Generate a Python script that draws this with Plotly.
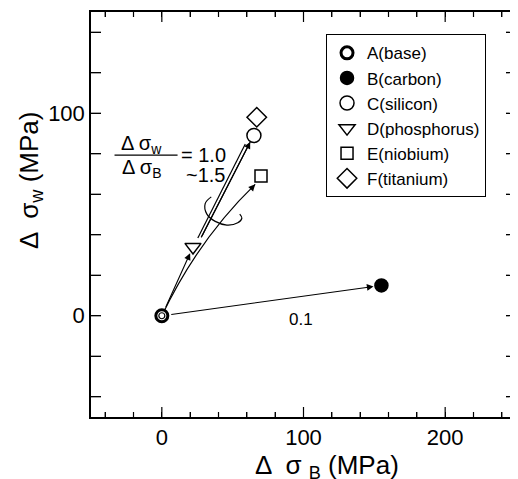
import plotly.graph_objects as go

# ---- data ----
names = ["A(base)", "B(carbon)", "C(silicon)", "D(phosphorus)", "E(niobium)", "F(titanium)"]
d_sigma_B = [0, 155, 65, 22, 70, 67]      # MPa
d_sigma_W = [0, 15, 89, 34, 69, 98]       # MPa
symbols = ["circle", "circle", "circle", "triangle-down", "square", "diamond"]
fills = ["white", "black", "white", "white", "white", "white"]
sizes = [12, 13, 14, 14, 12, 15]
line_w = [3, 1.5, 1.5, 1.5, 1.5, 1.5]

x_range = [-50, 250]
y_range = [-50, 150]
x_labels = [0, 100, 200]
y_labels = [0, 100]
x_minor = [-40, -20, 0, 20, 40, 60, 80, 100, 120, 140, 160, 180, 200, 220, 240]
y_minor = [-40, -20, 0, 20, 40, 60, 80, 100, 120, 140]

ratio_label_B = "0.1"
ratio_label_B_pos = [98, -2]

# parallel lines from D towards C
par_left_x = [25.4, 58.9]
par_left_y = [38.4, 84.8]
par_right_x = [27.8, 62.4]
par_right_y = [38.7, 85.8]

# curved path origin -> E (quadratic control point)
curve_ctrl = [26, 38]
curve_end = [65.9, 64.9]

# rotation loop symbol
loop_x = [34.9, 30.6, 31.8, 37.7, 45.9, 53.6, 56.5, 55.0]
loop_y = [58.7, 55.4, 50.2, 46.6, 44.8, 45.9, 48.2, 50.2]

FONT = "Liberation Sans, Arial, Helvetica, sans-serif"

fig = go.Figure()

fig.add_shape(type="path", xref="x", yref="y", layer="below",
              path=f"M 0,0 Q {curve_ctrl[0]},{curve_ctrl[1]} {curve_end[0]},{curve_end[1]}",
              line=dict(color="black", width=1.2))

fig.add_trace(go.Scatter(x=par_left_x, y=par_left_y, mode="lines",
                         line=dict(color="black", width=1.2), showlegend=False, hoverinfo="skip"))
fig.add_trace(go.Scatter(x=par_right_x, y=par_right_y, mode="lines",
                         line=dict(color="black", width=1.2), showlegend=False, hoverinfo="skip"))
fig.add_trace(go.Scatter(x=loop_x, y=loop_y, mode="lines",
                         line=dict(color="black", width=1.2, shape="spline"),
                         showlegend=False, hoverinfo="skip"))

for i, n in enumerate(names):
    fig.add_trace(go.Scatter(
        x=[d_sigma_B[i]], y=[d_sigma_W[i]], mode="markers", name=n,
        marker=dict(symbol=symbols[i], size=sizes[i], color=fills[i],
                    line=dict(color="black", width=line_w[i]))))

fig.add_trace(go.Scatter(x=[d_sigma_B[0]], y=[d_sigma_W[0]], mode="markers",
                         marker=dict(symbol="circle", size=6, color="white",
                                     line=dict(color="black", width=1.2)),
                         showlegend=False, hoverinfo="skip"))

arrow = dict(showarrow=True, text="", xref="x", yref="y", axref="x", ayref="y",
             arrowhead=2, arrowsize=1.2, arrowwidth=1.1, arrowcolor="black")
annotations = [
    dict(x=d_sigma_B[1], y=d_sigma_W[1], ax=0, ay=0, standoff=8, startstandoff=8, **arrow),
    dict(x=d_sigma_B[3], y=d_sigma_W[3], ax=0, ay=0, standoff=7, startstandoff=8, **arrow),
    dict(x=par_right_x[1], y=par_right_y[1], ax=par_right_x[0], ay=par_right_y[0], **arrow),
    dict(x=curve_end[0], y=curve_end[1], ax=curve_end[0] - 4, ay=curve_end[1] - 3, **arrow),
]

txt = dict(showarrow=False, xref="x", yref="y", font=dict(family=FONT, size=20, color="black"))
annotations += [
    dict(x=-14.3, y=84.7, text="Δ σ<sub>w</sub>", **txt),
    dict(x=-14.3, y=72.6, text="Δ σ<sub>B</sub>", **txt),
    dict(x=29.5, y=79.3, text="= 1.0", **txt),
    dict(x=30.5, y=69.5, text="~1.5", **txt),
    dict(x=ratio_label_B_pos[0], y=ratio_label_B_pos[1], text=ratio_label_B,
         showarrow=False, xref="x", yref="y", font=dict(family=FONT, size=17, color="black")),
    dict(x=0.555, y=-0.123, xref="paper", yref="paper", showarrow=False,
         xanchor="center", yanchor="middle",
         text="Δ  σ <sub>B</sub> (MPa)", font=dict(family=FONT, size=26, color="black")),
    dict(x=-0.1435, y=0.585, xref="paper", yref="paper", showarrow=False, textangle=-90,
         xanchor="center", yanchor="middle",
         text="Δ  σ<sub>w</sub> (MPa)", font=dict(family=FONT, size=26, color="black")),
]

fig.add_shape(type="line", xref="x", yref="y", x0=-33.4, x1=11.1, y0=79.3, y1=79.3,
              line=dict(color="black", width=1.2))

# inward frame ticks, positioned by the axes from the tick lists
tick_line = dict(color="black", width=1.2)
for v in x_minor:
    ln = 10 if v in x_labels else 5
    fig.add_shape(type="line", xref="x", x0=v, x1=v, yref="paper", ysizemode="pixel",
                  yanchor=0, y0=0, y1=ln, line=tick_line)
    fig.add_shape(type="line", xref="x", x0=v, x1=v, yref="paper", ysizemode="pixel",
                  yanchor=1, y0=-ln, y1=0, line=tick_line)
for v in y_minor:
    fig.add_shape(type="line", yref="y", y0=v, y1=v, xref="paper", xsizemode="pixel",
                  xanchor=0, x0=0, x1=10, line=tick_line)
    fig.add_shape(type="line", yref="y", y0=v, y1=v, xref="paper", xsizemode="pixel",
                  xanchor=1, x0=-10, x1=0, line=tick_line)

def main_axis(rng, vals, labels, tlen):
    return dict(range=rng, tickmode="array", tickvals=vals,
                ticktext=[str(v) if v in labels else "" for v in vals],
                ticks="inside", ticklen=tlen, tickwidth=1.2, tickcolor="black",
                showline=True, linecolor="black", linewidth=1.5, mirror="ticks",
                showgrid=False, zeroline=False,
                tickfont=dict(family=FONT, size=22, color="black"))

fig.update_layout(
    width=518, height=479,
    margin=dict(l=83, r=10, t=2, b=70),
    paper_bgcolor="white", plot_bgcolor="white",
    font=dict(family=FONT, color="black"),
    annotations=annotations,
    xaxis=main_axis(x_range, x_minor, x_labels, 5),
    yaxis=main_axis(y_range, y_minor, y_labels, 10),
    legend=dict(x=0.553, y=0.945, xanchor="left", yanchor="top",
                bordercolor="black", borderwidth=1, bgcolor="white",
                font=dict(family=FONT, size=17, color="black"),
                tracegroupgap=0, itemwidth=30),
    showlegend=True,
)

fig.write_html("out.html")
